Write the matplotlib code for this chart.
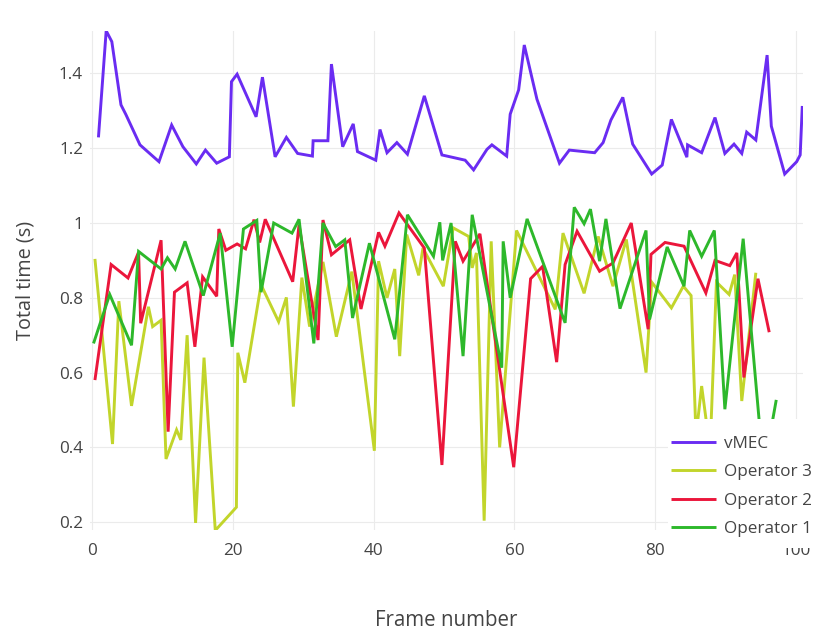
import matplotlib
matplotlib.use("Agg")
import matplotlib.pyplot as plt
from matplotlib.patches import Rectangle
from matplotlib.ticker import FuncFormatter

plt.rcParams['font.family'] = ['Open Sans', 'DejaVu Sans']

# ---------------- data ----------------
vmec_x = [0.9, 2.0, 2.8, 4.1, 4.8, 6.8, 9.5, 11.3, 12.9, 14.8, 16.1, 17.7, 19.5, 19.8, 20.6,
          23.3, 24.2, 26.0, 27.6, 29.2, 31.3, 31.4, 33.5, 34.0, 35.6, 37.1, 37.7, 40.3, 40.9,
          41.9, 43.3, 44.8, 47.2, 49.7, 53.0, 54.2, 56.1, 56.8, 58.9, 59.4, 60.6, 61.4, 63.2,
          66.4, 67.8, 71.4, 72.6, 73.7, 75.4, 76.8, 79.5, 81.0, 82.3, 84.5, 84.6, 86.6, 88.5,
          89.9, 91.2, 92.3, 93.0, 94.3, 95.9, 96.5, 98.4, 100.1, 100.6, 100.9]
vmec_y = [1.229, 1.514, 1.485, 1.316, 1.29, 1.209, 1.164, 1.262, 1.204, 1.158, 1.195, 1.160,
          1.177, 1.378, 1.398, 1.284, 1.39, 1.177, 1.229, 1.186, 1.179, 1.22, 1.22, 1.425,
          1.204, 1.265, 1.191, 1.168, 1.25, 1.188, 1.215, 1.184, 1.34, 1.182, 1.168, 1.142,
          1.197, 1.209, 1.179, 1.291, 1.356, 1.476, 1.331, 1.160, 1.195, 1.188, 1.215, 1.275,
          1.336, 1.211, 1.131, 1.155, 1.277, 1.176, 1.209, 1.188, 1.282, 1.186, 1.211, 1.186,
          1.243, 1.222, 1.449, 1.259, 1.131, 1.164, 1.182, 1.313]

op3_x = [0.4, 2.9, 3.8, 5.6, 8.0, 8.6, 9.8, 10.5, 12.0, 12.6, 13.5, 14.7, 15.9, 17.5, 20.5,
         20.7, 21.7, 24.0, 26.5, 27.6, 28.6, 29.8, 30.9, 32.8, 34.7, 36.9, 40.1, 40.7, 41.9,
         43.0, 43.7, 44.7, 46.4, 47.0, 49.9, 51.3, 53.5, 54.0, 54.6, 55.7, 56.7, 57.9, 60.3,
         65.8, 66.9, 69.9, 71.9, 74.0, 75.9, 78.7, 79.5, 82.3, 84.0, 85.1, 85.8, 86.6, 87.8,
         88.7, 90.5, 91.3, 92.3, 94.3]
op3_y = [0.904, 0.409, 0.791, 0.511, 0.776, 0.723, 0.740, 0.369, 0.447, 0.420, 0.700, 0.198,
         0.640, 0.178, 0.240, 0.653, 0.573, 0.835, 0.736, 0.801, 0.509, 0.854, 0.723, 0.896,
         0.696, 0.870, 0.391, 0.898, 0.800, 0.877, 0.644, 0.969, 0.860, 0.933, 0.831, 0.987,
         0.964, 0.880, 0.920, 0.204, 0.951, 0.400, 0.980, 0.769, 0.973, 0.812, 0.964, 0.831,
         0.956, 0.600, 0.842, 0.773, 0.831, 0.806, 0.430, 0.564, 0.393, 0.842, 0.809, 0.862,
         0.524, 0.867]

op2_x = [0.4, 2.7, 5.1, 6.6, 6.9, 9.8, 10.8, 11.7, 13.5, 14.6, 15.7, 17.7, 18.0, 19.0, 20.6,
         21.8, 23.0, 23.8, 24.6, 28.5, 29.4, 32.1, 32.8, 34.0, 36.6, 38.2, 40.7, 41.6, 43.6,
         47.2, 49.7, 51.6, 52.7, 55.1, 59.9, 62.3, 64.0, 66.0, 67.2, 68.9, 72.1, 74.0, 76.6,
         79.0, 79.4, 81.4, 84.1, 87.2, 88.5, 90.6, 91.6, 92.6, 94.6, 96.2]
op2_y = [0.580, 0.889, 0.853, 0.922, 0.732, 0.954, 0.442, 0.815, 0.840, 0.669, 0.856, 0.804,
         0.984, 0.927, 0.944, 0.931, 1.009, 0.948, 1.010, 0.843, 0.995, 0.687, 1.008, 0.915,
         0.955, 0.770, 0.975, 0.938, 1.027, 0.933, 0.353, 0.951, 0.898, 0.971, 0.347, 0.851,
         0.884, 0.628, 0.889, 0.978, 0.871, 0.893, 1.000, 0.716, 0.916, 0.948, 0.938, 0.813,
         0.900, 0.886, 0.920, 0.587, 0.851, 0.708]

op1_x = [0.2, 2.5, 5.6, 6.6, 9.8, 10.7, 11.8, 13.2, 15.8, 18.2, 19.9, 21.5, 23.4, 24.0, 25.8,
         28.4, 29.4, 31.5, 32.8, 34.6, 35.9, 37.0, 39.4, 43.0, 44.8, 48.5, 49.4, 49.8, 51.0,
         52.7, 54.0, 58.2, 58.4, 59.4, 61.8, 67.2, 68.5, 69.9, 70.8, 72.1, 73.0, 75.0, 78.7,
         79.2, 81.7, 84.1, 84.9, 86.6, 88.4, 89.9, 92.5, 95.4, 97.2]
op1_y = [0.678, 0.809, 0.673, 0.924, 0.877, 0.907, 0.877, 0.951, 0.806, 0.973, 0.669, 0.984,
         1.007, 0.815, 1.000, 0.973, 1.010, 0.678, 1.000, 0.937, 0.955, 0.746, 0.946, 0.689,
         1.022, 0.911, 1.002, 0.900, 1.000, 0.644, 1.022, 0.613, 0.951, 0.800, 1.011, 0.733,
         1.042, 0.998, 1.037, 0.898, 1.011, 0.771, 0.980, 0.742, 0.936, 0.831, 0.980, 0.911,
         0.980, 0.502, 0.958, 0.337, 0.527]

series_names = ['vMEC', 'Operator 3', 'Operator 2', 'Operator 1']
series_colors = ['#6a2cf2', '#c2d52b', '#eb163b', '#2db82b']
x_ticks = [0, 20, 40, 60, 80, 100]
y_ticks = [0.2, 0.4, 0.6, 0.8, 1.0, 1.2, 1.4]

# ---------------- figure ----------------
W, H = 815, 632
fig = plt.figure(figsize=(W / 100, H / 100), dpi=100)
left, right, top, bottom = 90, 803, 30.8, 530.4
ax = fig.add_axes([left / W, 1 - bottom / H, (right - left) / W, (bottom - top) / H])

series = [(vmec_x, vmec_y), (op3_x, op3_y), (op2_x, op2_y), (op1_x, op1_y)]
handles = []
for (xs, ys), name, col in zip(series, series_names, series_colors):
    h, = ax.plot(xs, ys, color=col, lw=2.1, label=name, solid_joinstyle='miter',
                 solid_capstyle='butt', zorder=2)
    handles.append(h)

all_y = vmec_y + op3_y + op2_y + op1_y
ax.set_xlim(-0.3, 101.0)
ax.set_ylim(min(all_y), max(all_y))

ax.set_xticks(x_ticks)
ax.set_yticks(y_ticks)
ax.yaxis.set_major_formatter(FuncFormatter(lambda v, p: f'{v:g}'))
ax.grid(True, color='#ebebeb', lw=0.8, zorder=0)
ax.set_axisbelow(True)
for s in ax.spines.values():
    s.set_visible(False)
ax.tick_params(axis='both', length=0, labelsize=12.3, colors='#444444')
ax.tick_params(axis='x', pad=9)
ax.tick_params(axis='y', pad=5)

ax.set_xlabel('Frame number', fontsize=14.8, color='#444444')
ax.set_ylabel('Total time (s)', fontsize=14.3, color='#444444')
ax.xaxis.set_label_coords(0.5, (bottom - 621) / (bottom - top))
ax.xaxis.label.set_va('center')
ax.yaxis.set_label_coords((26 - left) / (right - left), 0.5)
ax.yaxis.label.set_va('center')

# legend background (white box over the plot, as in the reference)
ax.add_patch(Rectangle((668 / W, 1 - 548 / H), (W - 668) / W, (548 - 419) / H,
                       transform=fig.transFigure, facecolor='white', edgecolor='none',
                       clip_on=False, zorder=4))
leg = ax.legend(handles=handles, labels=series_names, loc='upper left',
                bbox_to_anchor=(671 / W, 1 - 436 / H), bbox_transform=fig.transFigure,
                frameon=False, borderpad=0, borderaxespad=0, fontsize=12.3,
                handlelength=2.62, handletextpad=0.5, labelspacing=0.73)
leg.set_zorder(5)
for t in leg.get_texts():
    t.set_color('#444444')

fig.savefig('out.png', dpi=100)
